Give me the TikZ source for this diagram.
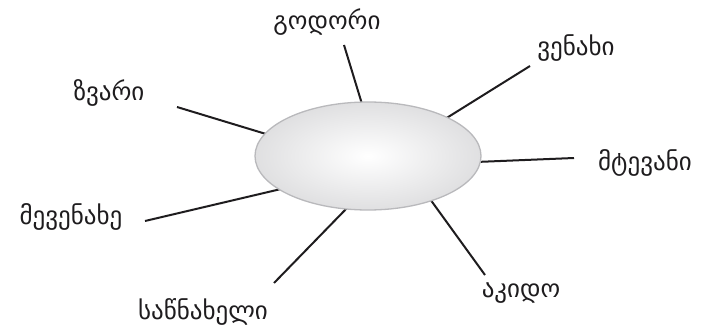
\documentclass[tikz,border=0pt]{standalone}
\usepackage{fontspec}
\newfontfamily\geo{DejaVu Sans}
\usetikzlibrary{shapes.geometric}
\definecolor{edgegray}{RGB}{192,192,195}
\definecolor{rimgray}{RGB}{185,185,188}
\definecolor{ink}{RGB}{30,28,30}
\pgfdeclareradialshading{myball}{\pgfpoint{0bp}{0bp}}{color(0bp)=(white); color(50bp)=(edgegray)}
\begin{document}
\begin{tikzpicture}[x=1pt,y=-1pt,
  lbl/.style={font=\geo\fontsize{25}{30}\selectfont, inner sep=0pt, text=ink},
  spoke/.style={line width=2pt, draw=ink}]
\useasboundingbox (0,0) rectangle (704,334);
% spoke ends
\coordinate (g1) at (344,45);  \coordinate (g2) at (362,104);
\coordinate (v1) at (530,66);  \coordinate (v2) at (445,119);
\coordinate (m1) at (574,158); \coordinate (m2) at (476,162);
\coordinate (z1) at (177,107); \coordinate (z2) at (266,134);
\coordinate (me1) at (145,221); \coordinate (me2) at (281,189);
\coordinate (s1) at (274,283); \coordinate (s2) at (348,207);
\coordinate (a1) at (485,275); \coordinate (a2) at (430,199);
\draw[spoke] (g1) -- (g2);
\draw[spoke] (v1) -- (v2);
\draw[spoke] (m1) -- (m2);
\draw[spoke] (z1) -- (z2);
\draw[spoke] (me1) -- (me2);
\draw[spoke] (s1) -- (s2);
\draw[spoke] (a1) -- (a2);
\node[ellipse, minimum width=226pt, minimum height=108pt, draw=rimgray, line width=1.3pt, shade, shading=myball] (c) at (368,156) {};
% labels
\node[lbl] (tg) at (327,22) {გოდორი};
\node[lbl] (tv) at (576,48) {ვენახი};
\node[lbl] (tz) at (109,93) {ზვარი};
\node[lbl] (tm) at (645,163) {მტევანი};
\node[lbl] (tme) at (71,217) {მევენახე};
\node[lbl] (ts) at (203,312) {საწნახელი};
\node[lbl] (ta) at (521,293) {აკიდო};
\end{tikzpicture}
\end{document}
